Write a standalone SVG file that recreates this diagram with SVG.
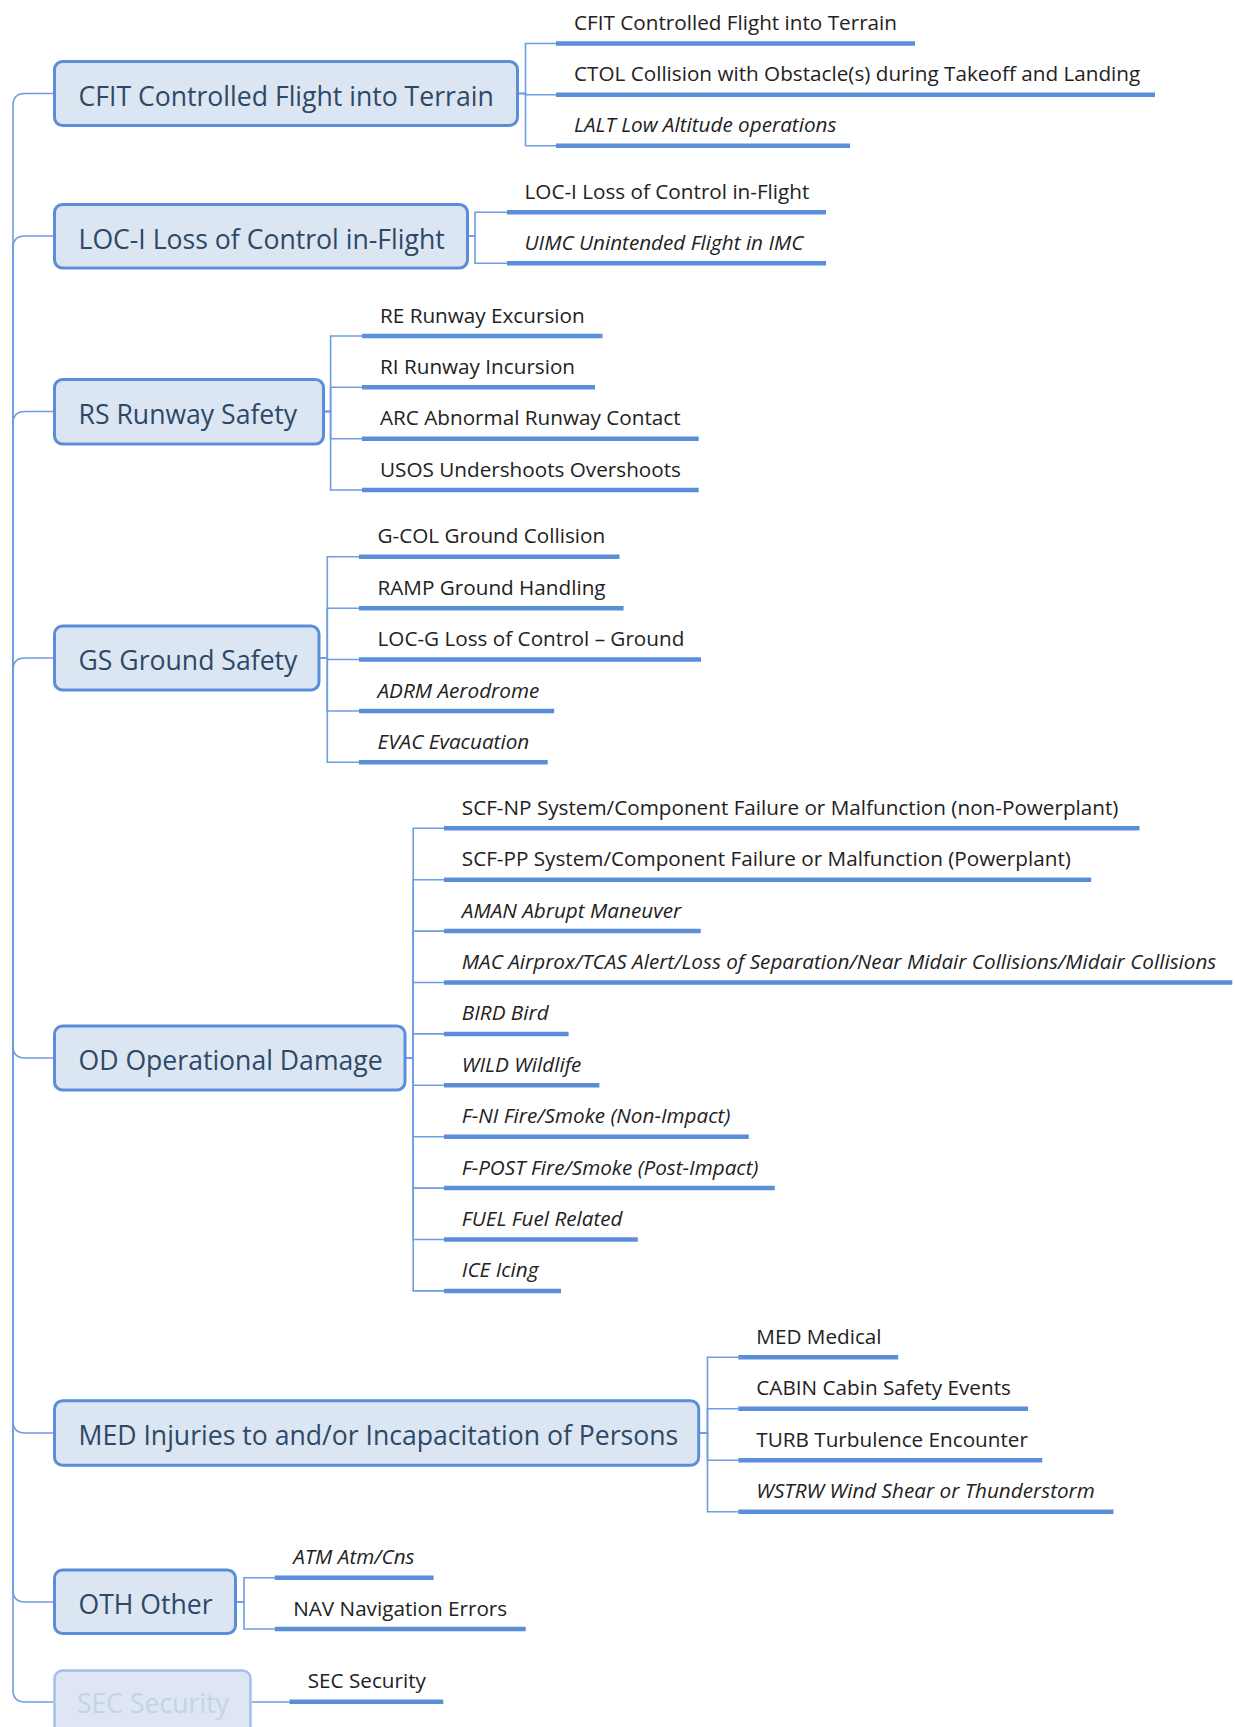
<svg xmlns="http://www.w3.org/2000/svg" width="1235" height="1727" viewBox="0 0 1235 1727">
<style>
.bg{fill:#ffffff}
.box rect{fill:#dce6f2;stroke:#5a8ed8;stroke-width:3}
.box text{font-family:"Open Sans","DejaVu Sans",sans-serif;font-size:26.6px;fill:#2e4867}
.box.faded rect{fill:#dde6f2;stroke:#a3c0ea;stroke-width:2.5}
.box.faded text{fill:#c4d3e8}
.leaf text{font-family:"Open Sans","DejaVu Sans",sans-serif;font-size:20.7px;fill:#222222}
.leaf text.it{font-style:italic}
.leaf line{stroke:#5a8ed8;stroke-width:4.5}
.conn path{fill:none;stroke:#6d9de2;stroke-width:1.6}
</style>
<rect class="bg" x="0" y="0" width="1235" height="1727"/>

<g id="connectors" class="conn">
  <path d="M13,898 V105.5 Q13,93.5 25,93.5 H53"/>
  <path d="M13,898 V248 Q13,236 25,236 H53"/>
  <path d="M13,898 V423.5 Q13,411.5 25,411.5 H53"/>
  <path d="M13,898 V670 Q13,658 25,658 H53"/>
  <path d="M13,898 V1046 Q13,1058 25,1058 H53"/>
  <path d="M13,898 V1421 Q13,1433 25,1433 H53"/>
  <path d="M13,898 V1590 Q13,1602 25,1602 H53"/>
  <path d="M13,898 V1690 Q13,1702 25,1702 H53"/>
  <path d="M519,93.5 H525.5 V43.5 H556"/>
  <path d="M519,93.5 H525.5 V94.7 H556"/>
  <path d="M519,93.5 H525.5 V145.7 H556"/>
  <path d="M469,236 H475 V212.3 H507"/>
  <path d="M469,236 H475 V263.3 H507"/>
  <path d="M325,411.5 H330.6 V336 H362"/>
  <path d="M325,411.5 H330.6 V387.3 H362"/>
  <path d="M325,411.5 H330.6 V438.7 H362"/>
  <path d="M325,411.5 H330.6 V490 H362"/>
  <path d="M320.5,658 H327.3 V556.7 H359"/>
  <path d="M320.5,658 H327.3 V608.2 H359"/>
  <path d="M320.5,658 H327.3 V659.5 H359"/>
  <path d="M320.5,658 H327.3 V711 H359"/>
  <path d="M320.5,658 H327.3 V762.3 H359"/>
  <path d="M406.5,1058 H413.2 V828.3 H444"/>
  <path d="M406.5,1058 H413.2 V879.7 H444"/>
  <path d="M406.5,1058 H413.2 V931.1 H444"/>
  <path d="M406.5,1058 H413.2 V982.5 H444"/>
  <path d="M406.5,1058 H413.2 V1033.9 H444"/>
  <path d="M406.5,1058 H413.2 V1085.3 H444"/>
  <path d="M406.5,1058 H413.2 V1136.7 H444"/>
  <path d="M406.5,1058 H413.2 V1188.1 H444"/>
  <path d="M406.5,1058 H413.2 V1239.5 H444"/>
  <path d="M406.5,1058 H413.2 V1290.9 H444"/>
  <path d="M700.2,1433 H707.5 V1357.3 H738.3"/>
  <path d="M700.2,1433 H707.5 V1408.8 H738.3"/>
  <path d="M700.2,1433 H707.5 V1460.3 H738.3"/>
  <path d="M700.2,1433 H707.5 V1511.8 H738.3"/>
  <path d="M237,1602 H244 V1577.7 H274.7"/>
  <path d="M237,1602 H244 V1629 H274.7"/>
  <path d="M252,1702 H289.5"/>
</g>

<g id="node-cfit" class="box"><rect x="54.5" y="61.5" width="463" height="64" rx="8"/><text x="78.5" y="106">CFIT Controlled Flight into Terrain</text></g>
<g id="node-loci" class="box"><rect x="54.5" y="204.5" width="413" height="63.5" rx="8"/><text x="78.5" y="248.5">LOC-I Loss of Control in-Flight</text></g>
<g id="node-rs" class="box"><rect x="54.5" y="379.5" width="269" height="64.5" rx="8"/><text x="78.5" y="423.5">RS Runway Safety</text></g>
<g id="node-gs" class="box"><rect x="54.5" y="626" width="264.5" height="64" rx="8"/><text x="78.5" y="670">GS Ground Safety</text></g>
<g id="node-od" class="box"><rect x="54.5" y="1026" width="350.5" height="64" rx="8"/><text x="78.5" y="1070">OD Operational Damage</text></g>
<g id="node-med" class="box"><rect x="54.5" y="1400.8" width="644.2" height="64.4" rx="8"/><text x="78.5" y="1445">MED Injuries to and/or Incapacitation of Persons</text></g>
<g id="node-oth" class="box"><rect x="54.5" y="1570" width="181" height="63.5" rx="8"/><text x="78.5" y="1613.5">OTH Other</text></g>
<g id="node-sec" class="box faded"><rect x="54.5" y="1670.5" width="196" height="64" rx="8"/><text x="77" y="1712.5">SEC Security</text></g>

<g id="leaf-cfit-1" class="leaf"><text x="574" y="30">CFIT Controlled Flight into Terrain</text><line x1="556" y1="43.5" x2="915" y2="43.5"/></g>
<g id="leaf-cfit-2" class="leaf"><text x="574" y="81.2">CTOL Collision with Obstacle(s) during Takeoff and Landing</text><line x1="556" y1="94.7" x2="1155" y2="94.7"/></g>
<g id="leaf-cfit-3" class="leaf"><text class="it" x="574" y="132.2">LALT Low Altitude operations</text><line x1="556" y1="145.7" x2="850" y2="145.7"/></g>

<g id="leaf-loci-1" class="leaf"><text x="524.5" y="198.8">LOC-I Loss of Control in-Flight</text><line x1="507" y1="212.3" x2="826" y2="212.3"/></g>
<g id="leaf-loci-2" class="leaf"><text class="it" x="524.5" y="249.8">UIMC Unintended Flight in IMC</text><line x1="507" y1="263.3" x2="826" y2="263.3"/></g>

<g id="leaf-rs-1" class="leaf"><text x="380" y="322.5">RE Runway Excursion</text><line x1="362" y1="336" x2="602.5" y2="336"/></g>
<g id="leaf-rs-2" class="leaf"><text x="380" y="373.8">RI Runway Incursion</text><line x1="362" y1="387.3" x2="595" y2="387.3"/></g>
<g id="leaf-rs-3" class="leaf"><text x="380" y="425.2">ARC Abnormal Runway Contact</text><line x1="362" y1="438.7" x2="698.7" y2="438.7"/></g>
<g id="leaf-rs-4" class="leaf"><text x="380" y="476.5">USOS Undershoots Overshoots</text><line x1="362" y1="490" x2="698.7" y2="490"/></g>

<g id="leaf-gs-1" class="leaf"><text x="377.5" y="543.2">G-COL Ground Collision</text><line x1="359" y1="556.7" x2="619.5" y2="556.7"/></g>
<g id="leaf-gs-2" class="leaf"><text x="377.5" y="594.7">RAMP Ground Handling</text><line x1="359" y1="608.2" x2="623.6" y2="608.2"/></g>
<g id="leaf-gs-3" class="leaf"><text x="377.5" y="646">LOC-G Loss of Control – Ground</text><line x1="359" y1="659.5" x2="701" y2="659.5"/></g>
<g id="leaf-gs-4" class="leaf"><text class="it" x="377.5" y="697.5">ADRM Aerodrome</text><line x1="359" y1="711" x2="554.2" y2="711"/></g>
<g id="leaf-gs-5" class="leaf"><text class="it" x="377.5" y="748.8">EVAC Evacuation</text><line x1="359" y1="762.3" x2="547.7" y2="762.3"/></g>

<g id="leaf-od-1" class="leaf"><text x="461.8" y="814.8">SCF-NP System/Component Failure or Malfunction (non-Powerplant)</text><line x1="444" y1="828.3" x2="1139.5" y2="828.3"/></g>
<g id="leaf-od-2" class="leaf"><text x="461.8" y="866.2">SCF-PP System/Component Failure or Malfunction (Powerplant)</text><line x1="444" y1="879.7" x2="1091.2" y2="879.7"/></g>
<g id="leaf-od-3" class="leaf"><text class="it" x="461.8" y="917.6">AMAN Abrupt Maneuver</text><line x1="444" y1="931.1" x2="700.7" y2="931.1"/></g>
<g id="leaf-od-4" class="leaf"><text class="it" x="461.8" y="969">MAC Airprox/TCAS Alert/Loss of Separation/Near Midair Collisions/Midair Collisions</text><line x1="444" y1="982.5" x2="1232.3" y2="982.5"/></g>
<g id="leaf-od-5" class="leaf"><text class="it" x="461.8" y="1020.4">BIRD Bird</text><line x1="444" y1="1033.9" x2="568.6" y2="1033.9"/></g>
<g id="leaf-od-6" class="leaf"><text class="it" x="461.8" y="1071.8">WILD Wildlife</text><line x1="444" y1="1085.3" x2="599.4" y2="1085.3"/></g>
<g id="leaf-od-7" class="leaf"><text class="it" x="461.8" y="1123.2">F-NI Fire/Smoke (Non-Impact)</text><line x1="444" y1="1136.7" x2="748.8" y2="1136.7"/></g>
<g id="leaf-od-8" class="leaf"><text class="it" x="461.8" y="1174.6">F-POST Fire/Smoke (Post-Impact)</text><line x1="444" y1="1188.1" x2="774.8" y2="1188.1"/></g>
<g id="leaf-od-9" class="leaf"><text class="it" x="461.8" y="1226">FUEL Fuel Related</text><line x1="444" y1="1239.5" x2="637.8" y2="1239.5"/></g>
<g id="leaf-od-10" class="leaf"><text class="it" x="461.8" y="1277.4">ICE Icing</text><line x1="444" y1="1290.9" x2="561" y2="1290.9"/></g>

<g id="leaf-med-1" class="leaf"><text x="756.3" y="1343.8">MED Medical</text><line x1="738.3" y1="1357.3" x2="898.2" y2="1357.3"/></g>
<g id="leaf-med-2" class="leaf"><text x="756.3" y="1395.3">CABIN Cabin Safety Events</text><line x1="738.3" y1="1408.8" x2="1028" y2="1408.8"/></g>
<g id="leaf-med-3" class="leaf"><text x="756.3" y="1446.8">TURB Turbulence Encounter</text><line x1="738.3" y1="1460.3" x2="1042.2" y2="1460.3"/></g>
<g id="leaf-med-4" class="leaf"><text class="it" x="756.3" y="1498.3">WSTRW Wind Shear or Thunderstorm</text><line x1="738.3" y1="1511.8" x2="1113.5" y2="1511.8"/></g>

<g id="leaf-oth-1" class="leaf"><text class="it" x="293.2" y="1564.2">ATM Atm/Cns</text><line x1="274.7" y1="1577.7" x2="433.6" y2="1577.7"/></g>
<g id="leaf-oth-2" class="leaf"><text x="293.2" y="1615.5">NAV Navigation Errors</text><line x1="274.7" y1="1629" x2="525.7" y2="1629"/></g>

<g id="leaf-sec-1" class="leaf"><text x="307.7" y="1688.2">SEC Security</text><line x1="289.5" y1="1701.7" x2="443.3" y2="1701.7"/></g>
</svg>
